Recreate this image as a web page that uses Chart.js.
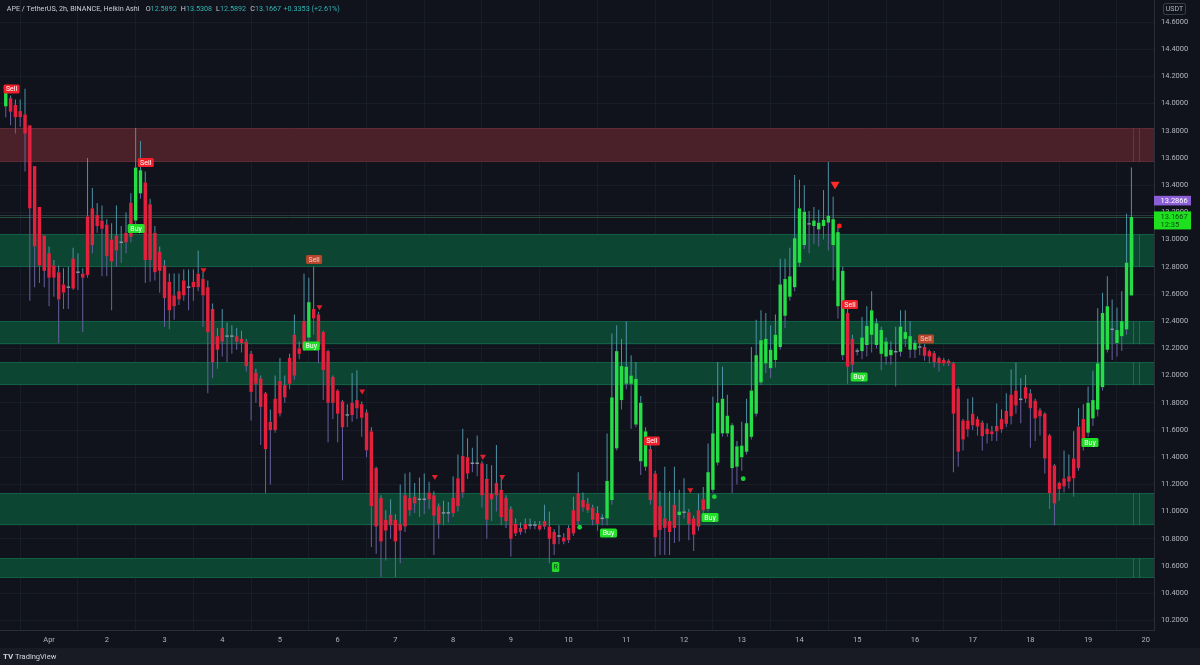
<!DOCTYPE html>
<html>
<head>
<meta charset="utf-8">
<script src="https://cdn.jsdelivr.net/npm/chart.js@4.4.1/dist/chart.umd.min.js"></script>
<style>
  html, body { margin: 0; padding: 0; background: #181b24; }
  canvas { display: block; }
</style>
</head>
<body>
<canvas id="chart" width="1200" height="665"></canvas>
<script>
// APE/USDT 2h Heikin Ashi candles, Mar 31 06:00 -> Apr 19 18:00
const opens = [
  13.98, 14.04, 13.99, 13.945, 13.92, 13.84, 13.54, 13.24, 13.03, 12.90,
  12.81, 12.76, 12.67, 12.645, 12.86, 12.755, 12.75, 13.17, 13.23, 13.18,
  13.14, 13.11, 13.00, 13.03, 12.975, 13.05, 13.27, 13.14, 13.34, 13.42,
  13.26, 13.05, 12.91, 12.81, 12.69, 12.59, 12.62, 12.70, 12.645, 12.69,
  12.75, 12.71, 12.65, 12.49, 12.29, 12.35, 12.285, 12.285, 12.29, 12.27,
  12.25, 12.16, 12.02, 11.98, 11.87, 11.66, 11.83, 11.96, 11.93, 12.13,
  12.30, 12.20, 12.40, 12.28, 12.49, 12.45, 12.32, 12.18, 11.99, 11.89,
  11.81, 11.705, 11.80, 11.82, 11.79, 11.73, 11.59, 11.32, 11.10, 10.94,
  10.975, 10.94, 10.91, 11.12, 11.10, 11.11, 11.085, 11.085, 11.14, 11.12,
  11.04, 10.985, 10.985, 11.10, 11.245, 11.41, 11.40, 11.35, 11.35, 11.355,
  11.24, 11.13, 11.21, 11.16, 11.10, 11.02, 10.91, 10.88, 10.91, 10.895,
  10.895, 10.90, 10.93, 10.89, 10.85, 10.815, 10.81, 10.88, 11.01, 11.135,
  11.085, 11.06, 11.03, 10.99, 10.955, 10.95, 11.085, 11.465, 11.82, 11.94,
  11.94, 11.64, 11.37, 11.33, 11.46, 11.28, 11.04, 10.95, 10.93, 11.05,
  10.975, 10.99, 10.995, 10.95, 11.01, 11.09, 11.02, 11.16, 11.36, 11.575,
  11.575, 11.32, 11.33, 11.40, 11.44, 11.55, 11.72, 11.95, 12.09, 12.055,
  12.115, 12.21, 12.44, 12.58, 12.65, 12.83, 12.96, 13.11, 13.10, 13.075,
  13.10, 13.125, 12.96, 12.51, 12.15, 12.46, 12.27, 12.175, 12.18, 12.225,
  12.30, 12.225, 12.16, 12.14, 12.15, 12.17, 12.175, 12.27, 12.19, 12.19,
  12.205, 12.21, 12.18, 12.165, 12.13, 12.115, 12.11, 12.09, 11.905, 11.67,
  11.67, 11.72, 11.68, 11.655, 11.61, 11.59, 11.63, 11.68, 11.74, 11.86,
  11.89, 11.83, 11.915, 11.87, 11.815, 11.745, 11.72, 11.56, 11.34, 11.21,
  11.245, 11.26, 11.39, 11.625, 11.68, 11.58, 11.685, 11.75, 11.915, 12.19,
  12.335, 12.24, 12.29, 12.34, 12.5892
];
const highs = [
  14.12, 14.06, 14.03, 14.03, 14.11, 13.84, 13.54, 13.24, 13.03, 12.95,
  12.85, 12.81, 12.79, 12.80, 12.94, 12.90, 12.79, 13.60, 13.38, 13.27,
  13.25, 13.15, 13.12, 13.25, 13.10, 13.20, 13.34, 13.82, 13.725, 13.50,
  13.30, 13.10, 12.95, 12.85, 12.75, 12.75, 12.75, 12.78, 12.78, 12.78,
  12.92, 12.76, 12.70, 12.53, 12.35, 12.49, 12.39, 12.37, 12.35, 12.33,
  12.27, 12.18, 12.05, 12.00, 11.88, 11.75, 12.00, 12.13, 12.00, 12.16,
  12.45, 12.25, 12.75, 12.72, 12.80, 12.47, 12.33, 12.19, 12.00, 11.90,
  11.82, 11.79, 12.02, 12.04, 11.81, 11.75, 11.62, 11.33, 11.12, 11.01,
  11.09, 10.98, 11.20, 11.28, 11.29, 11.21, 11.25, 11.28, 11.22, 11.15,
  11.06, 11.08, 11.07, 11.26, 11.42, 11.61, 11.54, 11.47, 11.56, 11.37,
  11.35, 11.34, 11.49, 11.26, 11.12, 11.04, 10.95, 10.92, 10.95, 10.95,
  10.93, 10.93, 11.05, 11.00, 10.87, 10.90, 10.84, 10.90, 11.11, 11.29,
  11.14, 11.10, 11.05, 11.04, 10.98, 11.575, 12.31, 12.37, 12.27, 12.40,
  12.15, 12.10, 11.85, 11.62, 11.50, 11.30, 11.15, 11.33, 11.15, 11.33,
  11.16, 11.245, 11.02, 10.97, 11.13, 11.18, 11.50, 11.845, 12.10, 12.065,
  11.86, 11.65, 11.52, 11.66, 11.83, 12.21, 12.41, 12.48, 12.46, 12.37,
  12.45, 12.86, 12.86, 12.94, 13.475, 13.44, 13.40, 13.21, 13.24, 13.22,
  13.365, 13.57, 13.315, 13.10, 12.80, 12.50, 12.30, 12.20, 12.43, 12.51,
  12.62, 12.42, 12.36, 12.28, 12.25, 12.36, 12.48, 12.48, 12.40, 12.26,
  12.26, 12.23, 12.19, 12.18, 12.14, 12.13, 12.12, 12.10, 11.92, 11.68,
  11.83, 11.84, 11.70, 11.67, 11.65, 11.63, 11.795, 11.75, 11.87, 12.045,
  12.095, 11.98, 12.005, 11.90, 11.83, 11.76, 11.73, 11.57, 11.35, 11.22,
  11.45, 11.42, 11.59, 11.76, 11.79, 11.92, 12.035, 12.495, 12.61, 12.73,
  12.56, 12.50, 12.62, 13.19, 13.5308
];
const lows = [
  13.90, 13.84, 13.78, 13.83, 13.50, 12.55, 12.65, 12.68, 12.65, 12.51,
  12.58, 12.24, 12.49, 12.49, 12.63, 12.63, 12.32, 12.72, 12.90, 13.05,
  12.73, 12.73, 12.48, 12.80, 12.83, 12.90, 12.98, 13.10, 13.30, 12.68,
  12.69, 12.70, 12.61, 12.36, 12.34, 12.41, 12.52, 12.55, 12.48, 12.55,
  12.62, 12.36, 11.87, 11.98, 12.05, 12.14, 12.10, 12.16, 12.19, 12.17,
  12.03, 11.67, 11.80, 11.49, 11.135, 11.20, 11.58, 11.70, 11.80, 11.90,
  11.97, 12.12, 12.18, 12.25, 12.30, 12.09, 11.82, 11.51, 11.68, 11.51,
  11.23, 11.62, 11.66, 11.68, 11.55, 11.40, 10.74, 10.69, 10.52, 10.64,
  10.80, 10.52, 10.62, 10.85, 10.97, 10.99, 10.96, 10.98, 11.02, 10.68,
  10.80, 10.90, 10.92, 10.96, 11.00, 11.10, 11.24, 11.29, 11.26, 11.03,
  10.80, 10.93, 11.00, 10.90, 10.88, 10.67, 10.82, 10.83, 10.84, 10.87,
  10.87, 10.86, 10.87, 10.62, 10.68, 10.76, 10.76, 10.77, 10.82, 10.90,
  11.00, 10.99, 10.90, 10.86, 10.90, 10.90, 11.05, 11.45, 11.75, 11.90,
  11.61, 11.62, 11.27, 11.30, 11.05, 10.67, 10.68, 10.68, 10.68, 10.77,
  10.78, 10.95, 10.79, 10.71, 10.86, 10.99, 11.00, 11.14, 11.34, 11.55,
  11.55, 11.135, 11.20, 11.30, 11.42, 11.53, 11.70, 11.93, 12.02, 11.98,
  12.06, 12.19, 12.35, 12.55, 12.62, 12.80, 12.93, 12.90, 12.97, 12.95,
  13.00, 12.92, 12.70, 12.42, 12.115, 11.94, 12.02, 12.15, 12.12, 12.14,
  12.17, 12.20, 12.04, 12.08, 12.08, 11.92, 12.14, 12.21, 12.13, 12.13,
  12.15, 12.11, 12.09, 12.06, 12.03, 12.07, 12.07, 11.29, 11.33, 11.45,
  11.55, 11.60, 11.56, 11.45, 11.50, 11.52, 11.52, 11.58, 11.62, 11.64,
  11.72, 11.65, 11.80, 11.47, 11.52, 11.56, 11.28, 11.02, 10.90, 11.08,
  11.14, 11.17, 11.11, 11.30, 11.45, 11.55, 11.63, 11.70, 11.89, 12.17,
  12.115, 12.14, 12.18, 12.30, 12.5892
];
const closes = [
  14.10, 13.94, 13.90, 13.90, 13.78, 13.23, 12.95, 12.81, 12.77, 12.72,
  12.72, 12.56, 12.61, 12.655, 12.64, 12.765, 12.72, 12.74, 12.96, 13.10,
  13.08, 12.88, 12.84, 12.92, 12.985, 12.98, 13.02, 13.53, 13.51, 12.85,
  12.85, 12.76, 12.77, 12.57, 12.48, 12.51, 12.56, 12.59, 12.655, 12.65,
  12.65, 12.59, 12.32, 12.10, 12.19, 12.25, 12.295, 12.295, 12.25, 12.24,
  12.07, 11.88, 11.94, 11.77, 11.46, 11.60, 11.60, 11.72, 11.84, 11.94,
  12.00, 12.16, 12.20, 12.54, 12.42, 12.21, 12.04, 11.80, 11.80, 11.72,
  11.62, 11.715, 11.71, 11.76, 11.69, 11.45, 11.04, 10.89, 10.78, 10.86,
  10.90, 10.78, 10.86, 10.89, 11.01, 11.06, 11.095, 11.095, 11.09, 10.97,
  10.91, 10.995, 10.995, 10.99, 11.04, 11.14, 11.28, 11.36, 11.36, 11.12,
  10.94, 11.09, 11.12, 10.96, 10.93, 10.80, 10.84, 10.85, 10.87, 10.905,
  10.905, 10.87, 10.89, 10.80, 10.76, 10.825, 10.78, 10.79, 10.84, 10.93,
  11.03, 11.01, 10.94, 10.91, 10.945, 11.225, 11.84, 12.18, 12.07, 12.065,
  12.00, 11.975, 11.80, 11.59, 11.085, 10.81, 10.865, 10.88, 10.85, 10.88,
  11.00, 11.00, 10.91, 10.83, 10.89, 11.01, 11.29, 11.575, 11.80, 11.83,
  11.705, 11.635, 11.48, 11.485, 11.65, 11.89, 12.15, 12.26, 12.27, 12.19,
  12.30, 12.67, 12.71, 12.73, 13.01, 13.23, 13.205, 13.12, 13.14, 13.125,
  13.145, 13.175, 13.15, 13.055, 12.77, 12.065, 12.08, 12.185, 12.28, 12.365,
  12.48, 12.385, 12.335, 12.25, 12.19, 12.18, 12.36, 12.32, 12.29, 12.24,
  12.215, 12.145, 12.14, 12.10, 12.09, 12.09, 12.09, 11.72, 11.44, 11.53,
  11.605, 11.635, 11.625, 11.555, 11.57, 11.57, 11.59, 11.605, 11.645, 11.70,
  11.78, 11.82, 11.83, 11.76, 11.685, 11.70, 11.39, 11.135, 11.06, 11.165,
  11.185, 11.22, 11.245, 11.32, 11.475, 11.80, 11.82, 12.09, 12.46, 12.51,
  12.345, 12.335, 12.40, 12.83, 13.1667
];

// time axis: candle index of each midnight, and its label
const dayTicks = [9, 21, 33, 45, 57, 69, 81, 93, 105, 117, 129, 141, 153, 165, 177, 189, 201, 213, 225, 237];
const dayLabels = ['Apr', '2', '3', '4', '5', '6', '7', '8', '9', '10', '11', '12', '13', '14', '15', '16', '17', '18', '19', '20'];

const priceTicks = [14.6, 14.4, 14.2, 14.0, 13.8, 13.6, 13.4, 13.2, 13.0, 12.8, 12.6, 12.4, 12.2, 12.0, 11.8, 11.6, 11.4, 11.2, 11.0, 10.8, 10.6, 10.4, 10.2];

// supply / demand zones
const zoneTops = [13.82, 13.04, 12.40, 12.10, 11.135, 10.657];
const zoneBottoms = [13.57, 12.80, 12.23, 11.93, 10.90, 10.514];
const zoneKinds = ['supply', 'demand', 'demand', 'demand', 'demand', 'demand'];
const zoneEdgeIdx = [234.4, 235.5];

// indicator signals (candle index, price, kind)
const signalIdx = [1.2, 29.1, 27.1, 64.1, 41.1, 65.2, 74.1, 63.5, 89.2, 99.2, 103.2, 119.3, 125.3, 114.3, 134.3, 142.3, 147.3, 146.4, 153.3, 172.4, 173.3, 175.5, 177.4, 191.3, 225.4];
const signalPrice = [14.107, 13.567, 13.082, 12.854, 12.771, 12.50, 11.88, 12.218, 11.252, 11.40, 11.252, 10.885, 10.843, 10.593, 11.519, 11.154, 11.11, 10.957, 11.242, 13.398, 13.10, 12.523, 11.99, 12.27, 11.508];
const signalKind = ['sell', 'sell', 'buy', 'sellSoft', 'tri', 'tri', 'tri', 'buy', 'tri', 'tri', 'tri', 'dot', 'buy', 'r', 'sell', 'tri', 'dot', 'buy', 'dot', 'bigTri', 'redDot', 'sell', 'buy', 'sellSoft', 'buy'];

const lastPrice = 13.1667;
const markPrice = 13.2866;

const BG = '#10131b';
const GREEN = '#26dc47';
const RED = '#e3213e';
const DOJI = '#8f98aa';
const FONT = 'Roboto, "Liberation Sans", sans-serif';

const idx = opens.map((_, i) => i);
const bodies = idx.map(i => ({ x: i, y: [opens[i], closes[i]] }));
const upperWicks = idx.map(i => ({ x: i, y: [Math.max(opens[i], closes[i]), highs[i]] }));
const lowerWicks = idx.map(i => ({ x: i, y: [lows[i], Math.min(opens[i], closes[i])] }));

function bodyColor(i) {
  const d = closes[i] - opens[i];
  if (Math.abs(d) < 0.015) return DOJI;
  return d >= 0 ? GREEN : RED;
}

function roundRect(ctx, x, y, w, h, r) {
  ctx.beginPath();
  ctx.moveTo(x + r, y);
  ctx.arcTo(x + w, y, x + w, y + h, r);
  ctx.arcTo(x + w, y + h, x, y + h, r);
  ctx.arcTo(x, y + h, x, y, r);
  ctx.arcTo(x, y, x + w, y, r);
  ctx.closePath();
}

const backdrop = {
  id: 'backdrop',
  beforeDraw(chart) {
    const ctx = chart.ctx;
    ctx.save();
    ctx.fillStyle = '#181b24';
    ctx.fillRect(0, 0, chart.width, chart.height);
    ctx.fillStyle = BG;
    ctx.fillRect(0, 0, chart.width, 648);
    ctx.restore();
  }
};

const zones = {
  id: 'zones',
  beforeDatasetsDraw(chart) {
    const { ctx, chartArea: a, scales: { x, y } } = chart;
    ctx.save();
    zoneTops.forEach((top, k) => {
      const y1 = y.getPixelForValue(top);
      const y2 = y.getPixelForValue(zoneBottoms[k]);
      const supply = zoneKinds[k] === 'supply';
      ctx.fillStyle = supply ? '#4a2129' : '#0c4633';
      ctx.fillRect(a.left, y1, a.right - a.left, y2 - y1);
      ctx.strokeStyle = supply ? '#5e2a33' : '#135f45';
      ctx.lineWidth = 1;
      ctx.beginPath();
      ctx.moveTo(a.left, Math.round(y1) + 0.5);
      ctx.lineTo(a.right, Math.round(y1) + 0.5);
      ctx.moveTo(a.left, Math.round(y2) - 0.5);
      ctx.lineTo(a.right, Math.round(y2) - 0.5);
      ctx.stroke();
      ctx.strokeStyle = supply ? '#6a3540' : '#1c6e52';
      ctx.beginPath();
      zoneEdgeIdx.forEach(v => {
        const px = Math.round(x.getPixelForValue(v)) + 0.5;
        ctx.moveTo(px, y1);
        ctx.lineTo(px, y2);
      });
      ctx.stroke();
    });
    // price lines
    ctx.lineWidth = 1;
    ctx.strokeStyle = '#25513a';
    let py = Math.round(y.getPixelForValue(lastPrice)) + 0.5;
    ctx.beginPath(); ctx.moveTo(a.left, py); ctx.lineTo(a.right, py); ctx.stroke();
    ctx.strokeStyle = '#2a3940';
    py = Math.round(y.getPixelForValue(lastPrice + 0.014)) + 0.5;
    ctx.beginPath(); ctx.moveTo(a.left, py); ctx.lineTo(a.right, py); ctx.stroke();
    ctx.restore();
  }
};

function drawTag(ctx, cx, cy, text, bg, fg) {
  ctx.font = '7px ' + FONT;
  const w = Math.round(ctx.measureText(text).width + 5);
  const h = 9;
  ctx.fillStyle = bg;
  roundRect(ctx, cx - w / 2, cy - h / 2, w, h, 1.5);
  ctx.fill();
  ctx.fillStyle = fg;
  ctx.textAlign = 'center';
  ctx.textBaseline = 'middle';
  ctx.fillText(text, cx, cy + 0.5);
}

const signals = {
  id: 'signals',
  afterDatasetsDraw(chart) {
    const { ctx, scales: { x, y } } = chart;
    ctx.save();
    signalIdx.forEach((v, k) => {
      const px = x.getPixelForValue(v);
      const py = y.getPixelForValue(signalPrice[k]);
      const kind = signalKind[k];
      if (kind === 'sell') drawTag(ctx, px, py, 'Sell', '#f0202a', '#ffffff');
      else if (kind === 'sellSoft') drawTag(ctx, px, py, 'Sell', '#b8462c', '#f3d0c4');
      else if (kind === 'buy') drawTag(ctx, px, py, 'Buy', '#22e02a', '#ffffff');
      else if (kind === 'r') {
        ctx.fillStyle = '#22d82a';
        roundRect(ctx, px - 3.7, py - 5, 7.4, 10, 1.5);
        ctx.fill();
        ctx.fillStyle = '#0a3a12';
        ctx.font = '7px ' + FONT;
        ctx.textAlign = 'center';
        ctx.textBaseline = 'middle';
        ctx.fillText('R', px, py + 0.5);
      } else if (kind === 'tri' || kind === 'bigTri') {
        const s = kind === 'tri' ? 3 : 4.5;
        ctx.fillStyle = kind === 'tri' ? '#e0202c' : '#ff2a2a';
        ctx.beginPath();
        ctx.moveTo(px - s, py - s * 0.8);
        ctx.lineTo(px + s, py - s * 0.8);
        ctx.lineTo(px, py + s * 0.9);
        ctx.closePath();
        ctx.fill();
      } else if (kind === 'dot' || kind === 'redDot') {
        ctx.fillStyle = kind === 'dot' ? '#1fcf3a' : '#ff2020';
        ctx.beginPath();
        ctx.arc(px, py, 2.4, 0, Math.PI * 2);
        ctx.fill();
      }
    });
    ctx.restore();
  }
};

const overlay = {
  id: 'overlay',
  afterDraw(chart) {
    const { ctx, chartArea: a, scales: { y } } = chart;
    ctx.save();
    ctx.textBaseline = 'middle';
    ctx.textAlign = 'left';
    // legend header
    ctx.font = '7.2px ' + FONT;
    const gray = '#c9ccd4';
    const teal = '#33b3b4';
    const parts = [
      [6.7, 'APE / TetherUS, 2h, BINANCE, Heikin Ashi', gray],
      [145.7, 'O', gray], [150.6, '12.5892', teal],
      [180.7, 'H', gray], [186, '13.5308', teal],
      [216, 'L', gray], [220, '12.5892', teal],
      [250.3, 'C', gray], [255, '13.1667', teal],
      [283.5, '+0.3353 (+2.61%)', teal]
    ];
    parts.forEach(([px, t, c]) => { ctx.fillStyle = c; ctx.fillText(t, px, 9); });

    // currency box
    ctx.strokeStyle = '#3a3e4a';
    ctx.lineWidth = 1;
    roundRect(ctx, 1163.5, 3.5, 22, 11, 2);
    ctx.stroke();
    ctx.fillStyle = '#b2b5be';
    ctx.font = '7px ' + FONT;
    ctx.textAlign = 'center';
    ctx.fillText('USDT', 1174.5, 9.5);

    // price boxes on right axis
    const pm = y.getPixelForValue(markPrice);
    ctx.fillStyle = '#8c5ed6';
    ctx.fillRect(a.right, pm - 4.8, 37, 9.6);
    ctx.fillStyle = '#ffffff';
    ctx.font = '7.5px ' + FONT;
    ctx.textAlign = 'left';
    ctx.fillText(markPrice.toFixed(4), a.right + 6.5, pm + 0.3);

    const pl = y.getPixelForValue(lastPrice);
    ctx.fillStyle = '#1fe01f';
    ctx.fillRect(a.right, pl - 5.5, 37, 18);
    ctx.fillStyle = '#0b4a10';
    ctx.fillText(lastPrice.toFixed(4), a.right + 6.5, pl);
    ctx.fillText('12:35', a.right + 6.5, pl + 8.5);

    // footer logo
    ctx.fillStyle = '#d1d4dc';
    ctx.font = 'bold 8px ' + FONT;
    ctx.fillText('TV', 3, 657);
    ctx.font = '7.5px ' + FONT;
    ctx.fillText('TradingView', 15, 657);
    ctx.restore();
  }
};

new Chart(document.getElementById('chart'), {
  type: 'bar',
  data: {
    datasets: [
      {
        label: 'upper wick',
        data: upperWicks,
        backgroundColor: '#4e92a6',
        barThickness: 1,
        grouped: false,
        inflateAmount: 0,
        order: 2,
      },
      {
        label: 'lower wick',
        data: lowerWicks,
        backgroundColor: '#6a5f9f',
        barThickness: 1,
        grouped: false,
        inflateAmount: 0,
        order: 2,
      },
      {
        label: 'body',
        data: bodies,
        backgroundColor: (c) => bodyColor(c.dataIndex),
        barThickness: 3.4,
        minBarLength: 1.5,
        grouped: false,
        inflateAmount: 0,
        order: 1,
      },
    ],
  },
  options: {
    responsive: false,
    animation: false,
    devicePixelRatio: 1,
    layout: { padding: 0 },
    plugins: { legend: { display: false }, tooltip: { enabled: false } },
    scales: {
      x: {
        type: 'linear',
        min: -1.2,
        max: 238.7,
        offset: false,
        afterBuildTicks: (s) => { s.ticks = dayTicks.map((v) => ({ value: v })); },
        afterFit: (s) => { s.height = 35; s.paddingLeft = 0; s.paddingRight = 0; },
        grid: { color: '#191d28', drawTicks: false },
        border: { color: '#2a2e39' },
        ticks: {
          autoSkip: false,
          maxRotation: 0,
          color: '#b2b5be',
          padding: 6,
          font: { size: 7.5, family: FONT },
          callback: (v, i) => dayLabels[i],
        },
      },
      y: {
        position: 'right',
        min: 10.1294,
        max: 14.7618,
        afterBuildTicks: (s) => { s.ticks = priceTicks.map((v) => ({ value: v })); },
        afterFit: (s) => { s.width = 46; s.paddingTop = 0; s.paddingBottom = 0; },
        grid: { color: '#191d28', drawTicks: false },
        border: { color: '#2a2e39' },
        ticks: {
          color: '#b2b5be',
          padding: 7,
          font: { size: 7.5, family: FONT },
          callback: (v) => Number(v).toFixed(4),
        },
      },
    },
  },
  plugins: [backdrop, zones, signals, overlay],
});
</script>
</body>
</html>
